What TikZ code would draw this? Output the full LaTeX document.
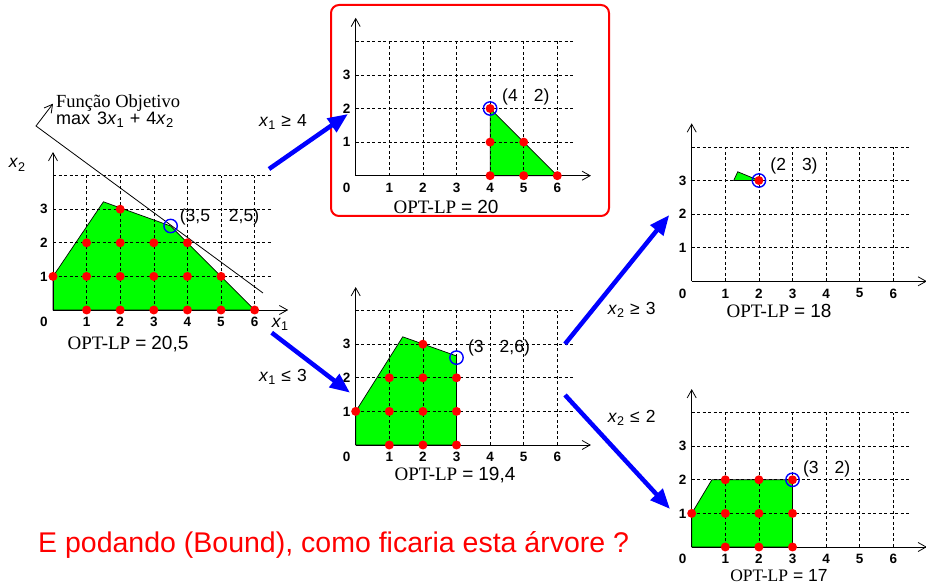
\documentclass[tikz,border=0pt]{standalone}
\usepackage{fontspec}
\setmainfont{Liberation Serif}
\setsansfont{Liberation Sans}
\usetikzlibrary{arrows.meta}
\newcommand\xv[1]{\textit{x}\raisebox{-0.35ex}{\scalebox{0.72}{#1}}}
\tikzset{
 gridln/.style={dash pattern=on 3pt off 2.5pt, line width=0.6pt},
 axisln/.style={line width=0.8pt, -{Straight Barb[length=8pt,width=9pt]}},
 feas/.style={fill=green, draw=black, line width=0.7pt},
 optc/.style={draw=blue, line width=1.4pt},
 tick/.style={font=\sffamily\bfseries\fontsize{13.5}{14}\selectfont, inner sep=0pt},
 ptlbl/.style={font=\sffamily\fontsize{17.5}{18}\selectfont, inner sep=0pt},
 optlp/.style={font=\fontsize{19}{20}\selectfont, inner sep=0pt},
 branch/.style={draw=blue, line width=4.5pt, -{Triangle[length=20pt,width=16pt]}},
 cond/.style={font=\sffamily\fontsize{17.5}{18}\selectfont, inner sep=0pt},
 objtxt/.style={inner sep=0pt, anchor=west},
}
\newcommand\lpframe[1]{%
 \foreach \i in {1,...,6} \draw[gridln] (\i,0) -- (\i,4);
 \foreach \j in {1,...,4} \draw[gridln] (0,\j) -- (6.5,\j);
 \draw[axisln] (0,0) -- (7,0);
 \draw[axisln] (0,0) -- (0,4.7);
 \node[tick] (#1-t0) at (-0.27,-0.36) {0};
 \foreach \i in {1,...,6} \node[tick] (#1-x\i) at (\i,-0.36) {\i};
 \foreach \j in {1,2,3} \node[tick] (#1-y\j) at (-0.27,\j) {\j};
}
\newcommand\ipts[1]{\foreach \a/\b in {#1} \fill[red] (\a,\b) circle (4.5pt);}
\newcommand\optlab[1]{OPT-LP\hspace{5pt}{\sffamily =\hspace{5pt}#1}}
\begin{document}
\begin{tikzpicture}[x=1pt,y=1pt]
\useasboundingbox[fill=white] (0,0) rectangle (926,586);

% red box
\draw[red, line width=2pt, rounded corners=8pt] (331,581) rectangle (609,370);

% left plot
\begin{scope}[shift={(53pt,276pt)},x=33.6pt,y=33.6pt]
 \draw[feas] (0,0) -- (0,1) -- (1.5,3.22) -- (3.5,2.5) -- (6,0) -- cycle;
 \lpframe{L}
 \draw[line width=0.8pt, -{Straight Barb[length=8pt,width=9pt]}] (6.25,0.506) -- (-0.506,5.476) -- (0,6.14);
 \ipts{1/0,2/0,3/0,4/0,5/0,6/0,0/1,1/1,2/1,3/1,4/1,5/1,1/2,2/2,3/2,4/2,2/3}
 \draw[optc] (3.5,2.5) circle (6.7pt);
\end{scope}

% top middle plot
\begin{scope}[shift={(355.7pt,410.3pt)},x=33.6pt,y=33.6pt]
 \draw[feas] (4,0) -- (4,2) -- (6,0) -- cycle;
 \lpframe{T}
 \ipts{4/0,5/0,6/0,4/1,5/1,4/2}
 \draw[optc] (4,2) circle (6.7pt);
\end{scope}

% middle plot
\begin{scope}[shift={(355.7pt,141pt)},x=33.6pt,y=33.6pt]
 \draw[feas] (0,0) -- (0,1) -- (1.4,3.22) -- (3,2.65) -- (3,0) -- cycle;
 \lpframe{M}
 \ipts{1/0,2/0,3/0,0/1,1/1,2/1,3/1,1/2,2/2,3/2,2/3}
 \draw[optc] (3,2.6) circle (6.7pt);
\end{scope}

% right top plot
\begin{scope}[shift={(691.7pt,304.7pt)},x=33.6pt,y=33.6pt]
 \draw[feas] (1.25,3) -- (1.37,3.26) -- (2,3) -- cycle;
 \lpframe{R}
 \ipts{2/3}
 \draw[optc] (2,3) circle (6.7pt);
\end{scope}

% right bottom plot
\begin{scope}[shift={(691.7pt,39pt)},x=33.6pt,y=33.6pt]
 \draw[feas] (0,0) -- (0,1) -- (0.6,2) -- (3,2) -- (3,0) -- cycle;
 \lpframe{B}
 \ipts{1/0,2/0,3/0,0/1,1/1,2/1,3/1,1/2,2/2,3/2}
 \draw[optc] (3,2) circle (6.7pt);
\end{scope}

% objective text
\node[objtxt, font=\fontsize{18.5}{19}\selectfont] (objA) at (56,483) {Função Objetivo};
\node[objtxt, font=\sffamily\fontsize{18}{19}\selectfont] (objB) at (56,466) {max\hspace{7pt}3\xv{1}\hspace{6pt}+\hspace{6pt}4\xv{2}};

% axis labels of left plot
\node[cond] (ax2) at (17,421) {\xv{2}};
\node[cond] (ax1) at (280,262) {\xv{1}};

% point labels
\node[ptlbl] (pL) at (219.5,369) {(3,5\hspace{19pt}2,5)};
\node[ptlbl] (pT) at (525.8,489) {(4\hspace{16pt}2)};
\node[ptlbl] (pM) at (499,238) {(3\hspace{16pt}2,6)};
\node[ptlbl] (pR) at (794,420) {(2\hspace{16pt}3)};
\node[ptlbl] (pB) at (826.7,117.3) {(3\hspace{16pt}2)};

% OPT-LP labels
\node[optlp] (oL) at (128,242) {\optlab{20,5}};
\node[optlp] (oT) at (446,379) {\optlab{20}};
\node[optlp] (oM) at (455,111) {\optlab{19,4}};
\node[optlp] (oR) at (779,275.5) {\optlab{18}};
\node[optlp, anchor=base, font=\fontsize{17.5}{18}\selectfont] (oB) at (779,4) {\optlab{17}};

% branch arrows
\coordinate (b1s) at (269,417); \coordinate (b1e) at (348,472);
\coordinate (b2s) at (271.7,253.3); \coordinate (b2e) at (350,193.3);
\coordinate (b3s) at (565,242); \coordinate (b3e) at (669.3,371);
\coordinate (b4s) at (565,191); \coordinate (b4e) at (670,77);
\draw[branch] (b1s) -- (b1e);
\draw[branch] (b2s) -- (b2e);
\draw[branch] (b3s) -- (b3e);
\draw[branch] (b4s) -- (b4e);

\node[cond] (c1) at (283,464.3) {\xv{1}\hspace{6pt}≥\hspace{6pt}4};
\node[cond] (c2) at (283,209.3) {\xv{1}\hspace{6pt}≤\hspace{6pt}3};
\node[cond] (c3) at (631.7,276) {\xv{2}\hspace{6pt}≥\hspace{6pt}3};
\node[cond] (c4) at (631.7,168) {\xv{2}\hspace{6pt}≤\hspace{6pt}2};

% question
\node[inner sep=0pt, anchor=west, text=red, font=\sffamily\fontsize{28.5}{30}\selectfont] (q) at (38,41) {E podando (Bound), como ficaria esta árvore ?};
\end{tikzpicture}
\end{document}
